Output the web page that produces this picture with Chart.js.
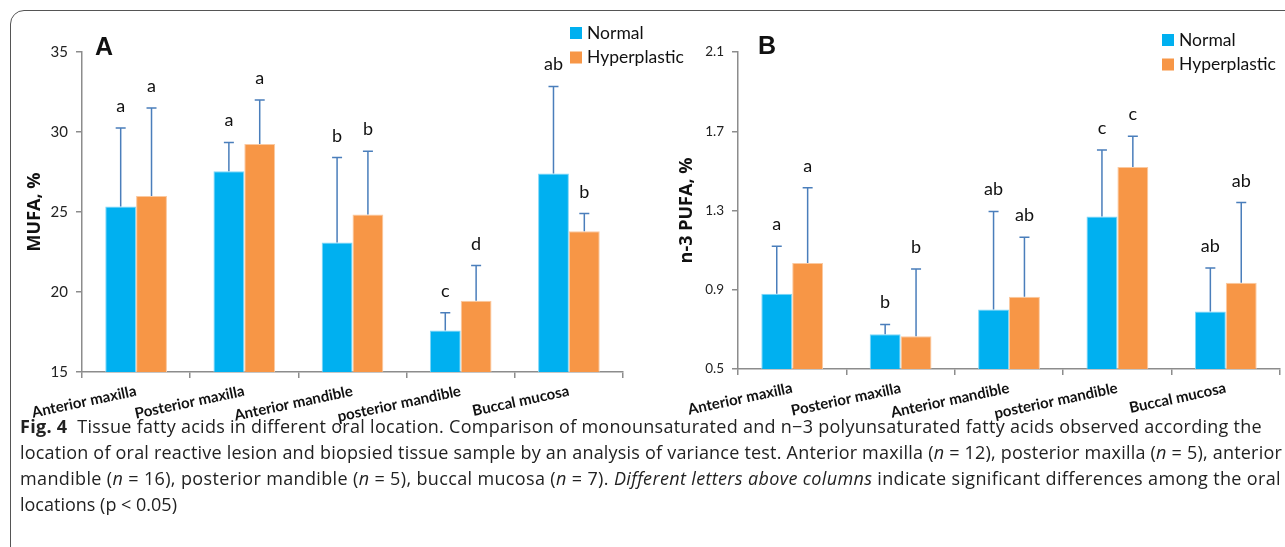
<!DOCTYPE html>
<html>
<head>
<meta charset="utf-8">
<script src="https://cdn.jsdelivr.net/npm/chart.js@4.4.1/dist/chart.umd.min.js"></script>
<style>
  body { margin: 0; width: 1285px; height: 547px; overflow: hidden; background: #fff; position: relative; font-family: "Open Sans", Lato, sans-serif; }
  .frame { position: absolute; left: 10px; top: 10px; width: 1400px; height: 700px; border: 1.5px solid #555; border-radius: 14px; box-sizing: border-box; }
  #chartA { position: absolute; left: 0; top: 0; }
  #chartB { position: absolute; left: 650px; top: 0; }
  .caption { position: absolute; left: 20px; top: 413px; font-size: 18px; line-height: 26px; color: #222; }
  .caption div { white-space: nowrap; }
  .caption span { display: inline-block; }
</style>
</head>
<body>
<div class="frame"></div>
<canvas id="chartA" width="710" height="430"></canvas>
<canvas id="chartB" width="635" height="430"></canvas>
<div class="caption" id="caption">
  <div><span data-w="1242"><b>Fig. 4</b>&nbsp; Tissue fatty acids in different oral location. Comparison of monounsaturated and n−3 polyunsaturated fatty acids observed according the</span></div>
  <div><span data-w="1262">location of oral reactive lesion and biopsied tissue sample by an analysis of variance test. Anterior maxilla (<i>n</i> = 12), posterior maxilla (<i>n</i> = 5), anterior</span></div>
  <div><span data-w="1261">mandible (<i>n</i> = 16), posterior mandible (<i>n</i> = 5), buccal mucosa (<i>n</i> = 7). <i>Different letters above columns</i> indicate significant differences among the oral</span></div>
  <div><span>locations (p &lt; 0.05)</span></div>
</div>
<script>
const locations = ['Anterior maxilla', 'Posterior maxilla', 'Anterior mandible', 'posterior mandible', 'Buccal mucosa']

// panel A - MUFA, %
const mufaNormal = [25.35, 27.55, 23.1, 17.6, 27.4]
const mufaNormalErr = [4.9, 1.8, 5.3, 1.1, 5.45]
const mufaHyper = [26.0, 29.25, 24.85, 19.45, 23.8]
const mufaHyperErr = [5.5, 2.75, 3.95, 2.2, 1.1]
const mufaNormalLetters = ['a', 'a', 'b', 'c', 'ab']
const mufaHyperLetters = ['a', 'a', 'b', 'd', 'b']
const mufaTicks = [15, 20, 25, 30, 35]

// panel B - n-3 PUFA, %
const pufaNormal = [0.88, 0.675, 0.80, 1.27, 0.79]
const pufaNormalErr = [0.24, 0.05, 0.495, 0.335, 0.22]
const pufaHyper = [1.035, 0.665, 0.865, 1.52, 0.935]
const pufaHyperErr = [0.38, 0.34, 0.30, 0.155, 0.405]
const pufaNormalLetters = ['a', 'b', 'ab', 'c', 'ab']
const pufaHyperLetters = ['a', 'b', 'ab', 'c', 'ab']
const pufaTicks = [0.5, 0.9, 1.3, 1.7, 2.1]

const blue = '#00b0f0'
const orange = '#f79646'
const axisGray = '#8c8c8c'

// error bars (upper only) + letters over them
const errorBars = {
    id: 'errorBars',
    afterDatasetsDraw(chart){
        const ctx = chart.ctx
        const yScale = chart.scales.y
        chart.data.datasets.forEach((ds, i) => {
            const meta = chart.getDatasetMeta(i)
            meta.data.forEach((bar, j) => {
                const top = yScale.getPixelForValue(ds.data[j] + ds.errors[j])
                ctx.save()
                ctx.strokeStyle = '#4a7ebb'
                ctx.lineWidth = 1.5
                ctx.beginPath()
                ctx.moveTo(bar.x, bar.y)
                ctx.lineTo(bar.x, top)
                ctx.moveTo(bar.x - 5, top)
                ctx.lineTo(bar.x + 5, top)
                ctx.stroke()
                ctx.fillStyle = '#111'
                ctx.font = '18px Lato'
                ctx.textAlign = 'center'
                ctx.textBaseline = 'alphabetic'
                ctx.fillText(ds.letters[j], bar.x, top - 16)
                ctx.restore()
            })
        })
    }
}

// square legend and panel letter
const boxLegend = {
    id: 'boxLegend',
    afterDraw(chart, args, opts){
        const ctx = chart.ctx
        ctx.save()
        chart.data.datasets.forEach((ds, i) => {
            const y = opts.y + i * 24.5
            ctx.fillStyle = ds.backgroundColor
            ctx.fillRect(opts.x, y - 6, 12, 12)
            ctx.fillStyle = '#111'
            ctx.font = '17.5px Lato'
            ctx.textBaseline = 'middle'
            ctx.textAlign = 'left'
            ctx.fillText(ds.label, opts.x + 17, y)
        })
        ctx.font = 'bold 25px "Liberation Sans"'
        ctx.textBaseline = 'middle'
        ctx.fillText(opts.panel, opts.panelX, opts.panelY)
        ctx.restore()
    }
}

function makeChart(id, cfg){
    const ctx = document.getElementById(id).getContext('2d')
    return new Chart(ctx, {
        type: 'bar',
        data: {
            labels: locations,
            datasets: [{
                label: 'Normal',
                data: cfg.normal,
                errors: cfg.normalErr,
                letters: cfg.normalLetters,
                backgroundColor: blue,
                borderColor: '#7fd6f7',
                borderWidth: 1
            }, {
                label: 'Hyperplastic',
                data: cfg.hyper,
                errors: cfg.hyperErr,
                letters: cfg.hyperLetters,
                backgroundColor: orange,
                borderColor: '#fbc9a0',
                borderWidth: 1
            }]
        },
        options: {
            responsive: false,
            animation: false,
            devicePixelRatio: 1,
            layout: { padding: { top: 52, right: cfg.padRight, left: 0, bottom: 0 } },
            datasets: { bar: { categoryPercentage: 0.57, barPercentage: 1 } },
            plugins: {
                legend: { display: false },
                tooltip: { enabled: false },
                boxLegend: cfg.legend
            },
            scales: {
                x: {
                    afterFit: s => { s.height = cfg.xHeight },
                    border: { color: axisGray, width: 1.5 },
                    grid: { drawOnChartArea: false, tickLength: 6, color: axisGray, lineWidth: 1.5, offset: true },
                    ticks: {
                        autoSkip: false,
                        minRotation: 12,
                        maxRotation: 12,
                        padding: 4,
                        color: '#111',
                        font: { family: 'Lato', size: 15, weight: 'bold' }
                    }
                },
                y: {
                    min: cfg.ticks[0],
                    max: cfg.ticks[cfg.ticks.length - 1],
                    afterBuildTicks: s => { s.ticks = cfg.ticks.map(v => ({ value: v })) },
                    afterFit: s => { s.width = cfg.yWidth },
                    border: { color: axisGray, width: 1.5 },
                    grid: { drawOnChartArea: false, tickLength: 6, color: axisGray, lineWidth: 1.5 },
                    ticks: {
                        padding: cfg.tickPad,
                        color: '#222',
                        font: { family: 'Lato', size: cfg.tickSize },
                        callback: v => cfg.decimals ? v.toFixed(cfg.decimals) : v
                    },
                    title: {
                        display: true,
                        text: cfg.title,
                        color: '#111',
                        font: { family: 'Open Sans', size: 18, weight: 'bold' },
                        padding: { top: cfg.titlePad, bottom: 0 }
                    }
                }
            }
        },
        plugins: [errorBars, boxLegend]
    })
}

// stretch/squeeze each caption line to the width it has in the figure
function fitCaption(){
    document.querySelectorAll('#caption span[data-w]').forEach(span => {
        const target = +span.dataset.w
        const chars = span.textContent.length
        const natural = span.getBoundingClientRect().width
        span.style.letterSpacing = ((target - natural) / chars) + 'px'
    })
}

document.addEventListener('DOMContentLoaded', () => {
    makeChart('chartA', {
        normal: mufaNormal, normalErr: mufaNormalErr, normalLetters: mufaNormalLetters,
        hyper: mufaHyper, hyperErr: mufaHyperErr, hyperLetters: mufaHyperLetters,
        ticks: mufaTicks, decimals: 0, tickSize: 15, tickPad: 8,
        title: 'MUFA, %', titlePad: 24,
        yWidth: 82, xHeight: 58, padRight: 87,
        legend: { x: 570, y: 33, panel: 'A', panelX: 95, panelY: 48 }
    })
    makeChart('chartB', {
        normal: pufaNormal, normalErr: pufaNormalErr, normalLetters: pufaNormalLetters,
        hyper: pufaHyper, hyperErr: pufaHyperErr, hyperLetters: pufaHyperLetters,
        ticks: pufaTicks, decimals: 1, tickSize: 13.5, tickPad: 8,
        title: 'n-3 PUFA, %', titlePad: 26,
        yWidth: 88, xHeight: 61, padRight: 5,
        legend: { x: 512, y: 40, panel: 'B', panelX: 108, panelY: 47 }
    })
    fitCaption()
})
</script>
</body>
</html>
